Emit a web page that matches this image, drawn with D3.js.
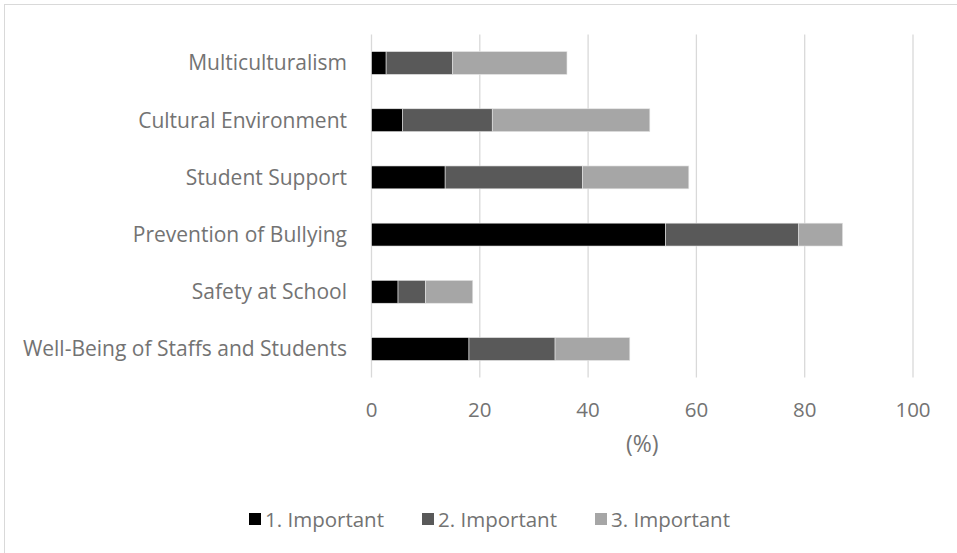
<!DOCTYPE html>
<html>
<head>
<meta charset="utf-8">
<script src="https://cdn.jsdelivr.net/npm/d3@7"></script>
<style>
  html, body { margin: 0; padding: 0; background: #fff; }
  svg { display: block; }
  text { font-family: "Open Sans", Lato, sans-serif; fill: #737373; }
</style>
</head>
<body>
<script>
const categories = ["Multiculturalism", "Cultural Environment", "Student Support", "Prevention of Bullying", "Safety at School", "Well-Being of Staffs and Students"];
const important1 = [2.7, 5.7, 13.6, 54.3, 4.9, 18.0];
const important2 = [12.3, 16.6, 25.4, 24.6, 5.1, 15.9];
const important3 = [21.1, 29.1, 19.6, 8.1, 8.7, 13.8];
const seriesNames = ["1. Important", "2. Important", "3. Important"];
const seriesColors = ["#000000", "#595959", "#a6a6a6"];
const xTicks = [0, 20, 40, 60, 80, 100];
const xTitle = "(%)";

const W = 957, H = 553;
const svg = d3.select("body").append("svg").attr("width", W).attr("height", H);

svg.append("rect").attr("x", 4.5).attr("y", 4.5).attr("width", W + 10).attr("height", H + 10)
  .attr("fill", "none").attr("stroke", "#d9d9d9").attr("stroke-width", 1);

const x = d3.scaleLinear().domain([0, 100]).range([371.5, 913]);
const y = d3.scaleBand().domain(categories).range([34.4, 377.6]).paddingInner(0.6).paddingOuter(0.3);

// gridlines
svg.append("g").selectAll("line").data(xTicks).join("line")
  .attr("x1", d => x(d)).attr("x2", d => x(d))
  .attr("y1", 34.4).attr("y2", 377.6)
  .attr("stroke", "#d9d9d9").attr("stroke-width", 1.3);

// stacked data
const rows = categories.map((c, i) => ({cat: c, s0: important1[i], s1: important2[i], s2: important3[i]}));
const stack = d3.stack().keys(["s0", "s1", "s2"])(rows);

svg.append("g").selectAll("g").data(stack).join("g")
  .attr("fill", (d, i) => seriesColors[i])
  .selectAll("rect").data(d => d).join("rect")
  .attr("x", d => x(d[0]))
  .attr("width", d => x(d[1]) - x(d[0]))
  .attr("y", d => y(d.data.cat))
  .attr("height", y.bandwidth())
  .attr("stroke", "#e6e6e6").attr("stroke-width", 0.6);

// category labels
svg.append("g").selectAll("text").data(categories).join("text")
  .attr("x", 347).attr("y", d => y(d) + y.bandwidth() / 2)
  .attr("dy", "0.35em").attr("text-anchor", "end")
  .attr("font-size", 21).text(d => d);

// x axis tick labels
svg.append("g").selectAll("text").data(xTicks).join("text")
  .attr("x", d => x(d)).attr("y", 417)
  .attr("text-anchor", "middle").attr("font-size", 20.5)
  .text(d => d);

svg.append("text").attr("x", x(50)).attr("y", 452)
  .attr("text-anchor", "middle").attr("font-size", 23).text(xTitle);

// legend
const legendX = [249, 422, 595];
const lg = svg.append("g").selectAll("g").data(seriesNames).join("g")
  .attr("transform", (d, i) => `translate(${legendX[i]},0)`);
lg.append("rect").attr("x", 0).attr("y", 513).attr("width", 12).attr("height", 12)
  .attr("fill", (d, i) => seriesColors[i]);
lg.append("text").attr("x", 16).attr("y", 526.5).attr("font-size", 20.5).text(d => d);
</script>
</body>
</html>
